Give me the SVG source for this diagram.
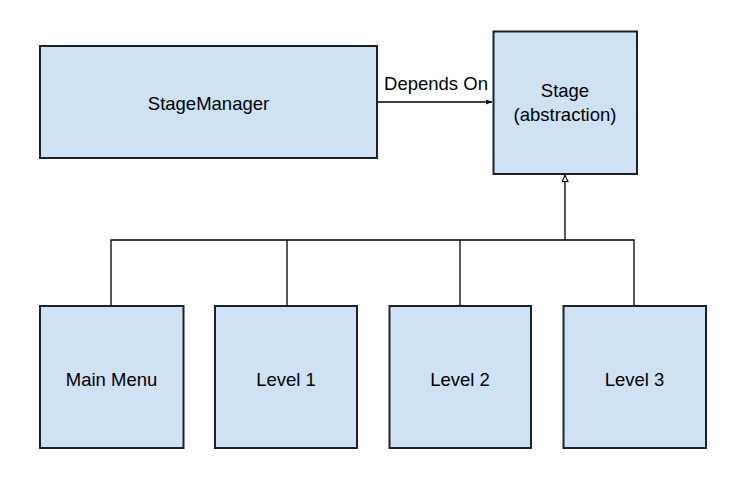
<svg xmlns="http://www.w3.org/2000/svg" width="747" height="481" viewBox="0 0 747 481">
<style>
.box{fill:#cfe2f3;stroke:#1c222a;stroke-width:2}
.lbl{font-family:"Liberation Sans",Arial,sans-serif;font-size:18.5px;fill:#000;text-anchor:middle}
.ln{fill:none;stroke:#000;stroke-width:1.3}
</style>
<defs>
<marker id="filled" markerWidth="8" markerHeight="8" refX="6" refY="3" orient="auto" markerUnits="userSpaceOnUse">
<path d="M0,0.5 L6,3 L0,5.5 Z" fill="#000"/>
</marker>
<marker id="hollow" markerWidth="10" markerHeight="10" refX="7" refY="3.5" orient="auto" markerUnits="userSpaceOnUse">
<path d="M0.5,0.5 L6.5,3.5 L0.5,6.5 Z" fill="#fff" stroke="#000" stroke-width="1.2"/>
</marker>
</defs>
<rect width="747" height="481" fill="#fff"/>
<g id="connectors">
<line class="ln" x1="378" y1="102" x2="492" y2="102" marker-end="url(#filled)"/>
<polyline class="ln" points="111,305 111,240 634,240 634,305"/>
<line class="ln" x1="287" y1="240" x2="287" y2="305"/>
<line class="ln" x1="460" y1="240" x2="460" y2="305"/>
<line class="ln" x1="565" y1="240" x2="565" y2="175" marker-end="url(#hollow)"/>
<text class="lbl" x="436" y="89.5">Depends On</text>
</g>
<g id="stagemanager">
<rect class="box" x="40" y="46" width="337" height="112"/>
<text class="lbl" x="208.5" y="109.5">StageManager</text>
</g>
<g id="stage">
<rect class="box" x="493.5" y="31.5" width="143.5" height="142.5"/>
<text class="lbl" x="565" y="97">Stage</text>
<text class="lbl" x="565" y="121">(abstraction)</text>
</g>
<g id="mainmenu">
<rect class="box" x="40" y="306" width="143.5" height="142"/>
<text class="lbl" x="111.5" y="386">Main Menu</text>
</g>
<g id="level1">
<rect class="box" x="215" y="306" width="142" height="142"/>
<text class="lbl" x="286" y="386">Level 1</text>
</g>
<g id="level2">
<rect class="box" x="389.5" y="306" width="141.5" height="142"/>
<text class="lbl" x="460" y="386">Level 2</text>
</g>
<g id="level3">
<rect class="box" x="563.5" y="306" width="142.5" height="142"/>
<text class="lbl" x="634.5" y="386">Level 3</text>
</g>
</svg>
